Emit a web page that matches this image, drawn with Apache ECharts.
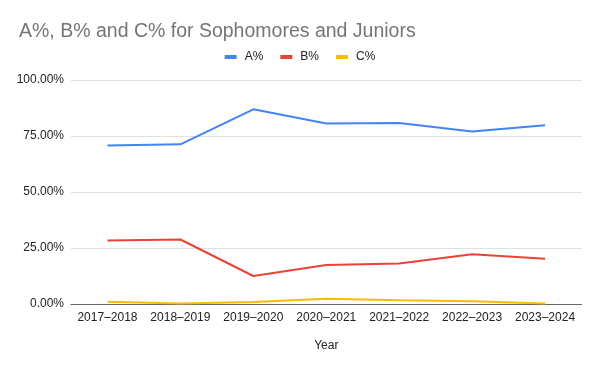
<!DOCTYPE html>
<html><head><meta charset="utf-8">
<script src="https://cdn.jsdelivr.net/npm/echarts@6/dist/echarts.min.js"></script>
<style>html,body{margin:0;padding:0;background:#fff}#c{width:600px;height:369px}</style>
</head><body><div id="c"></div>
<script>
const categories = ['2017–2018','2018–2019','2019–2020','2020–2021','2021–2022','2022–2023','2023–2024'];
const aValues = [70.8, 71.3, 86.9, 80.6, 80.8, 77.0, 79.8];
const bValues = [28.4, 28.8, 12.5, 17.4, 18.1, 22.2, 20.2];
const cValues = [1.0, 0.2, 0.9, 2.3, 1.7, 1.2, 0.2];
const yTicks = [0, 25, 50, 75, 100];

const chart = echarts.init(document.getElementById('c'), null, {renderer:'canvas'});
const font = 'Liberation Sans, Arial, sans-serif';
function mk(name, data, color){
  return {name, type:'line', data, symbol:'none', smooth:false,
    lineStyle:{width:2, color}, itemStyle:{color}, z: 3};
}
chart.setOption({
  animation:false,
  title:{text:'A%, B% and C% for Sophomores and Juniors', left:14, top:17,
    textStyle:{fontFamily:font, fontSize:19.5, fontWeight:'normal', color:'#757575'}},
  legend:{top:46, left:'center', itemWidth:12, itemHeight:4, itemGap:17,
    icon:'rect',
    textStyle:{fontFamily:font, fontSize:12, color:'#222', padding:[0,0,0,3]},
    data:['A%','B%','C%']},
  grid:{left:71, right:18.5, top:80, bottom:65, containLabel:false},
  xAxis:{type:'category', data:categories, boundaryGap:true,
    name:'Year', nameLocation:'middle', nameGap:36,
    nameTextStyle:{fontFamily:font, fontSize:12, color:'#222'},
    axisLine:{lineStyle:{color:'#666', width:1}},
    axisTick:{show:false},
    axisLabel:{fontFamily:font, fontSize:12, color:'#222', margin:8, interval:0}},
  yAxis:{type:'value', min:0, max:100, interval:25,
    axisLine:{show:false}, axisTick:{show:false},
    splitLine:{lineStyle:{color:'#e0e0e0', width:1}},
    axisLabel:{fontFamily:font, fontSize:12, color:'#222', margin:7,
      formatter:v=> yTicks.includes(v) ? v.toFixed(2)+'%' : ''}},
  series:[mk('A%', aValues, '#4285F4'), mk('B%', bValues, '#EA4335'), mk('C%', cValues, '#FBBC04')]
});
</script></body></html>
